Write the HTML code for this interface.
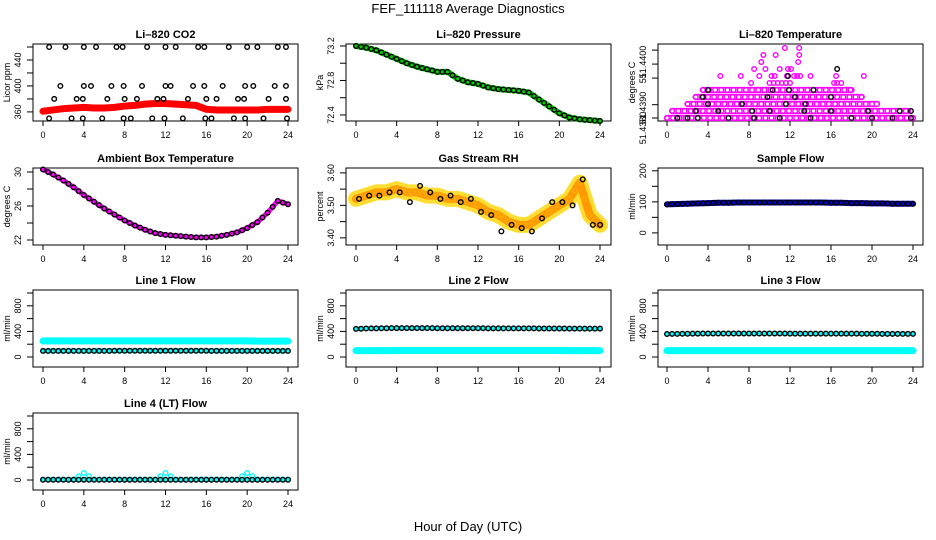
<!DOCTYPE html>
<html><head><meta charset="utf-8"><style>
html,body{margin:0;padding:0;background:#fff;}
svg{display:block;font-family:"Liberation Sans",sans-serif;}
</style></head><body>
<svg id="chart" width="936" height="540" viewBox="0 0 936 540" xmlns="http://www.w3.org/2000/svg">
<text x="468" y="13" text-anchor="middle" font-size="13">FEF_111118  Average Diagnostics</text>
<text x="468" y="531" text-anchor="middle" font-size="13">Hour of Day (UTC)</text>
</svg>
<script>
// ---- data arrays ----
const hours = [0,1,2,3,4,5,6,7,8,9,10,11,12,13,14,15,16,17,18,19,20,21,22,23,24];
const xTicks = [0,4,8,12,16,20,24];
const co2Red = [361,363,365,366,367,366,366,367,369,370,372,373,373,372,371,370,364,363,363,363,363,363,364,364,364];
const co2BlackT = [0.6,2.2,4,5.2,7.2,7.8,10.2,12,13,15.2,15.8,18.2,20,21,23,23.8,1.7,4,4.7,6.7,7.9,9.7,12,12.5,14.7,15.8,17.6,19.8,20.6,22.7,23.8,1.1,3.3,3.9,6.3,8,9.2,11.2,11.8,14.2,16,17,19.1,19.7,22.1,23.8,0.6,2.8,3.9,5.8,7.9,8.6,10.7,11.9,13.7,15.9,16.5,18.7,19.8,21.6,23.9];
const co2BlackV = [460,460,460,460,460,460,460,460,460,460,460,460,460,460,460,460,400,400,400,400,400,400,400,400,400,400,400,400,400,400,400,380,380,380,380,380,380,380,380,380,380,380,380,380,380,380,350,350,350,350,350,350,350,350,350,350,350,350,350,350,350];
const pressure = [73.2,73.18,73.15,73.1,73.05,73.0,72.96,72.93,72.9,72.9,72.82,72.78,72.76,72.72,72.7,72.69,72.68,72.66,72.58,72.5,72.42,72.37,72.35,72.34,72.33];
const tempLevelStart = [0,0.5,2,2.8,3.5];
const tempLevelEnd = [24,23.5,20.5,19,18];
const tempSparseT = [8.2,10,10.4,10.8,11.2,11.6,12,16.3,16.6,17,5.2,7.2,9,10.2,10.5,11.7,12.4,12.7,13,14,16.5,19.2,8.5,9.6,11,11.8,12.1,9.2,12.8,9.4,10.6,12.9,11.5,12.9];
const tempSparseL = [5,5,5,5,5,5,5,5,5,5,6,6,6,6,6,6,6,6,6,6,6,6,7,7,7,7,7,8,8,9,9,9,10,10];
const tempBlackT = [1,2,3,6,8.5,11,14,18,20,22,23.8,2.8,5,8.3,10,13.4,16,19.6,22.7,23.8,4,7.3,11.6,13.5,3.5,9.8,12.5,16,4,10.3,11.9,14.3,11.8,16.6];
const tempBlackL = [0,0,0,0,0,0,0,0,0,0,0,1,1,1,1,1,1,1,1,1,2,2,2,2,3,3,3,3,4,4,4,4,6,7];
const ambient = [30.3,29.7,29.0,28.2,27.3,26.5,25.7,25.0,24.3,23.7,23.2,22.8,22.6,22.5,22.4,22.3,22.3,22.4,22.6,22.9,23.4,24.1,25.2,26.6,26.2];
const rh = [3.52,3.53,3.54,3.54,3.55,3.54,3.54,3.53,3.53,3.52,3.52,3.51,3.50,3.48,3.47,3.45,3.44,3.44,3.46,3.48,3.50,3.52,3.57,3.47,3.44];
const rhBlack = [3.52,3.53,3.53,3.54,3.54,3.51,3.56,3.54,3.52,3.53,3.51,3.52,3.48,3.47,3.42,3.44,3.43,3.42,3.46,3.51,3.51,3.50,3.58,3.44,3.44];
const sampleFlow = [92,93,94,95,96,97,97,98,98,98,98,98,98,98,98,98,97,97,96,96,95,95,94,94,94];
const line1Cyan = [250,252,252,252,252,252,252,252,252,252,252,252,252,252,252,252,252,252,252,252,252,248,248,248,248];
const line1Black = [95,95,95,96,96,96,96,97,97,97,97,97,97,97,97,97,97,96,96,96,96,95,95,95,95];
const line2Black = [440,445,448,450,452,452,452,452,450,450,450,450,450,448,448,448,448,448,446,446,446,444,444,444,444];
const line2Cyan = [100,100,100,100,102,102,102,102,102,102,102,102,102,102,102,102,102,102,102,102,102,100,100,100,100];
const line3Black = [360,362,364,366,368,368,368,368,368,368,368,368,366,366,366,366,366,366,366,364,364,362,362,362,362];
const line3Cyan = [100,100,100,100,100,100,100,100,100,100,100,100,100,100,100,100,100,100,100,100,100,100,100,100,100];
const line4Black = [5,5,5,5,5,5,5,5,5,5,5,5,5,5,5,5,5,5,5,5,5,5,5,5,5];
const line4Cyan = [8,8,8,8,110,8,8,8,8,8,8,8,110,8,8,8,8,8,8,8,110,8,8,8,8];

// ---- layout ----
const NS = "http://www.w3.org/2000/svg";
const svg = document.getElementById('chart');
const cols = [{bx0:33,bx1:298,x0:43,x24:288},{bx0:346,bx1:611,x0:356,x24:600},{bx0:658,bx1:923,x0:667,x24:913}];
const rows = [{top:44,bot:121},{top:168,bot:245},{top:290,bot:367},{top:413,bot:490}];

function el(tag, attrs, parent){const e=document.createElementNS(NS,tag);for(const k in attrs)e.setAttribute(k,attrs[k]);(parent||svg).appendChild(e);return e;}

function makePanel(name, title, ylabel, c, r, ymin, ymax, yticks, ylabels, labelPos){
  const col=cols[c], row=rows[r];
  const g=el('g',{});
  
  
  const xs=h=>col.x0+(col.x24-col.x0)*h/24;
  const ys=v=>row.bot-(v-ymin)/(ymax-ymin)*(row.bot-row.top);
  const box=el('rect',{x:col.bx0,y:row.top,width:col.bx1-col.bx0,height:row.bot-row.top,fill:'none',stroke:'#000','stroke-width':1},g);
  
  
  const t=el('text',{x:(col.bx0+col.bx1)/2,y:row.top-6,'text-anchor':'middle','font-size':11,'font-weight':'bold'},g);
  t.textContent=title;
  
  
  const xa=el('g',{},g);
  
  
  const ay=row.bot;
  xTicks.forEach(v=>{
    el('line',{x1:xs(v),x2:xs(v),y1:ay,y2:ay+5,stroke:'#000'},xa);
    const tx=el('text',{x:xs(v),y:ay+17,'text-anchor':'middle','font-size':9},xa);
    tx.textContent=v;
  });
  const ya=el('g',{},g);
  
  
  const ax=col.bx0;
  yticks.forEach((v,i)=>{
    el('line',{x1:ax-6,x2:ax,y1:ys(v),y2:ys(v),stroke:'#000'},ya);
  });
  ylabels.forEach((lab,i)=>{
    if(lab==='') return;
    const yy = labelPos ? labelPos[i] : ys(yticks[i]);
    const lx=ax-12;
    const ty=el('text',{x:lx,y:yy,'text-anchor':'middle','font-size':9,transform:`rotate(-90 ${lx} ${yy})`},ya);
    ty.textContent=lab;
  });
  const yl=el('text',{x:col.bx0-23,y:(row.top+row.bot)/2,'text-anchor':'middle','font-size':9,transform:`rotate(-90 ${col.bx0-23} ${(row.top+row.bot)/2})`},g);
  yl.textContent=ylabel;
  
  
  return {g,xs,ys};
}

function band(p, vals, color, width, name){
  const pts=hours.map((h,i)=>p.xs(h)+','+p.ys(vals[i])).join(' ');
  const pl=el('polyline',{points:pts,fill:'none',stroke:color,'stroke-width':width,'stroke-linejoin':'round','stroke-linecap':'round'},p.g);
  
  
}
function dots(p, ts, vals, color, name, r){
  const g=el('g',{},p.g);
  
  
  ts.forEach((h,i)=>{
    const c=el('circle',{cx:p.xs(h),cy:p.ys(vals[i]),r:r||2.3,fill:'none',stroke:color,'stroke-width':1.4},g);
    
    
  });
}
function denseDots(p, vals, color, name){
  const ts=[],vs=[];
  for(let i=0;i<hours.length;i++){ts.push(hours[i]);vs.push(vals[i]);
    if(i<hours.length-1){ts.push(hours[i]+0.5);vs.push((vals[i]+vals[i+1])/2);}}
  dots(p,ts,vs,color,name);
}

// CO2
let p=makePanel('co2-panel','Li\u2013820 CO2','Licor ppm',0,0,346,464.6,[360,380,400,420,440,460],['360','','400','','440','']);
band(p,co2Red,'#ff0000',7,'co2-red-band');
dots(p,co2BlackT,co2BlackV,'#000','co2-black-points');

// Pressure
p=makePanel('pressure-panel','Li\u2013820 Pressure','kPa',1,0,72.33,73.223,[72.4,72.6,72.8,73.0,73.2],['72.4','','72.8','','73.2']);
band(p,pressure,'#00cc00',6,'pressure-green-band');
denseDots(p,pressure,'#000','pressure-black-points');

// Temperature
p=makePanel('temp-panel','Li\u2013820 Temperature','degrees C',2,0,-0.43,10.57,[0,1.9,5.7,7.7,9.7],['51.4380','51.4390','51.','51.4400'],[128,108,77,62]);
{
  const g=el('g',{},p.g);
  
  
  tempLevelStart.forEach((s,l)=>{
    const e=tempLevelEnd[l];
    const w=p.xs(e)-p.xs(s);
    const r=el('rect',{x:p.xs(s)-2.3,y:p.ys(l)-2.3,width:w+4.6,height:4.6,rx:2.3,fill:'none',stroke:'#ff00ff','stroke-width':1.6},g);
    
    
    for(let h=s;h<=e+1e-6;h+=0.6){
      const c=el('circle',{cx:p.xs(h),cy:p.ys(l),r:2.3,fill:'none',stroke:'#ff00ff','stroke-width':1.4},g);
      
      
    }
  });
}
dots(p,tempSparseT,tempSparseL,'#ff00ff','temp-sparse-points');
dots(p,tempBlackT,tempBlackL,'#000','temp-black-points');

// Ambient
p=makePanel('ambient-panel','Ambient Box Temperature','degrees C',0,1,21.41,30.47,[22,24,26,28,30],['22','','26','','30']);
band(p,ambient,'#ff00ff',5,'ambient-magenta-band');
denseDots(p,ambient,'#000','ambient-black-points');

// RH
p=makePanel('rh-panel','Gas Stream RH','percent',1,1,3.378,3.615,[3.40,3.45,3.50,3.55,3.60],['3.40','','3.50','','3.60']);
band(p,rh,'#ffdd33',16,'rh-yellow-band');
band(p,rh,'#ff9900',8,'rh-orange-band');
denseDots(p,rh,'#ffaa00','rh-orange-points');
dots(p,hours.map(h=>Math.min(24,h+0.3)),rhBlack,'#000','rh-black-points');

// Sample flow
p=makePanel('sample-flow-panel','Sample Flow','ml/min',2,1,-39,209,[0,50,100,150,200],['0','','100','','200']);
band(p,sampleFlow,'#0000cc',6,'sample-flow-blue-band');
denseDots(p,sampleFlow,'#000','sample-flow-black-points');

const flowTicks=[0,200,400,600,800,1000], flowLabels=['0','','400','','800',''];
// Line 1
p=makePanel('line1-panel','Line 1 Flow','ml/min',0,2,-156,1047,flowTicks,flowLabels);
band(p,line1Cyan,'#00ffff',7,'line1-cyan-band');
band(p,line1Black,'#00ffff',5,'line1-cyan-under');
denseDots(p,line1Black,'#000','line1-black-points');
// Line 2
p=makePanel('line2-panel','Line 2 Flow','ml/min',1,2,-156,1047,flowTicks,flowLabels);
band(p,line2Cyan,'#00ffff',7,'line2-cyan-band');
band(p,line2Black,'#00ffff',4,'line2-cyan-under');
denseDots(p,line2Black,'#000','line2-black-points');
// Line 3
p=makePanel('line3-panel','Line 3 Flow','ml/min',2,2,-156,1047,flowTicks,flowLabels);
band(p,line3Cyan,'#00ffff',7,'line3-cyan-band');
band(p,line3Black,'#00ffff',4,'line3-cyan-under');
denseDots(p,line3Black,'#000','line3-black-points');
// Line 4
p=makePanel('line4-panel','Line 4 (LT) Flow','ml/min',0,3,-156,1047,flowTicks,flowLabels);
denseDots(p,line4Cyan,'#00ffff','line4-cyan-points');
band(p,line4Black,'#00ffff',4,'line4-cyan-under');
denseDots(p,line4Black,'#000','line4-black-points');
</script>
</body></html>
